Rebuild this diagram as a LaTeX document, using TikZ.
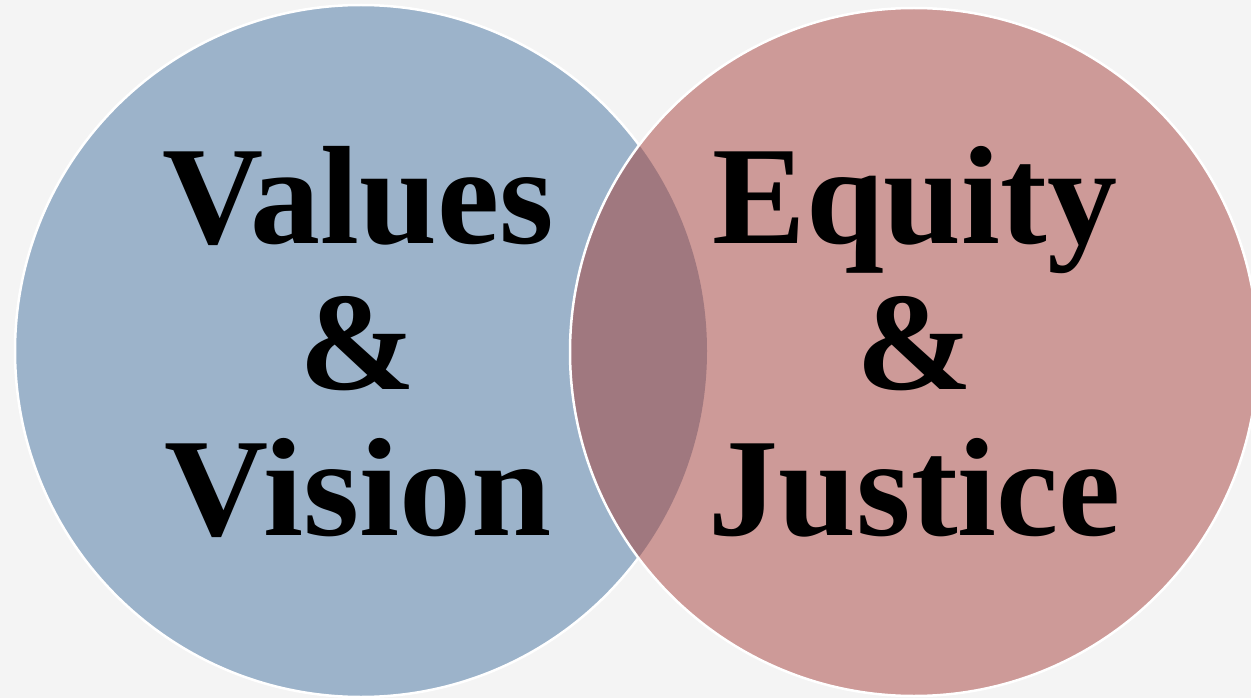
\documentclass[tikz,border=0pt]{standalone}
\usepackage{fontspec}
\setmainfont{Liberation Serif}
\definecolor{bgc}{HTML}{F4F4F4}
\definecolor{bluec}{HTML}{9CB3CA}
\definecolor{redc}{HTML}{CD9A98}
\definecolor{lensc}{HTML}{A0787F}
\tikzset{
  word/.style={font=\fontsize{140}{146}\selectfont\bfseries, anchor=base, inner sep=0pt, text=black},
  ring/.style={draw=white, line width=2.5pt}
}
\begin{document}
\begin{tikzpicture}[x=1pt,y=-1pt]
\fill[bgc] (0,0) rectangle (1251,698);
\useasboundingbox (0,0) rectangle (1251,698);
\coordinate (lc) at (361,351);
\coordinate (rc) at (914,352);
% left circle
\fill[bluec] (lc) circle (346);
\draw[ring] (lc) circle (346);
% right circle
\fill[redc] (rc) circle (344);
\begin{scope}
  \clip (lc) circle (346);
  \fill[lensc] (rc) circle (344);
\end{scope}
\draw[ring] (rc) circle (344);
% texts
\node[word] (v1) at (358,243) {Values};
\node[word] (v2) at (358,389) {\&};
\node[word, xscale=1.03] (v3) at (358,535) {Vision};
\node[word] (e1) at (915,243) {Equity};
\node[word] (e2) at (915,389) {\&};
\node[word] (e3) at (915,535) {Justice};
\end{tikzpicture}
\end{document}
